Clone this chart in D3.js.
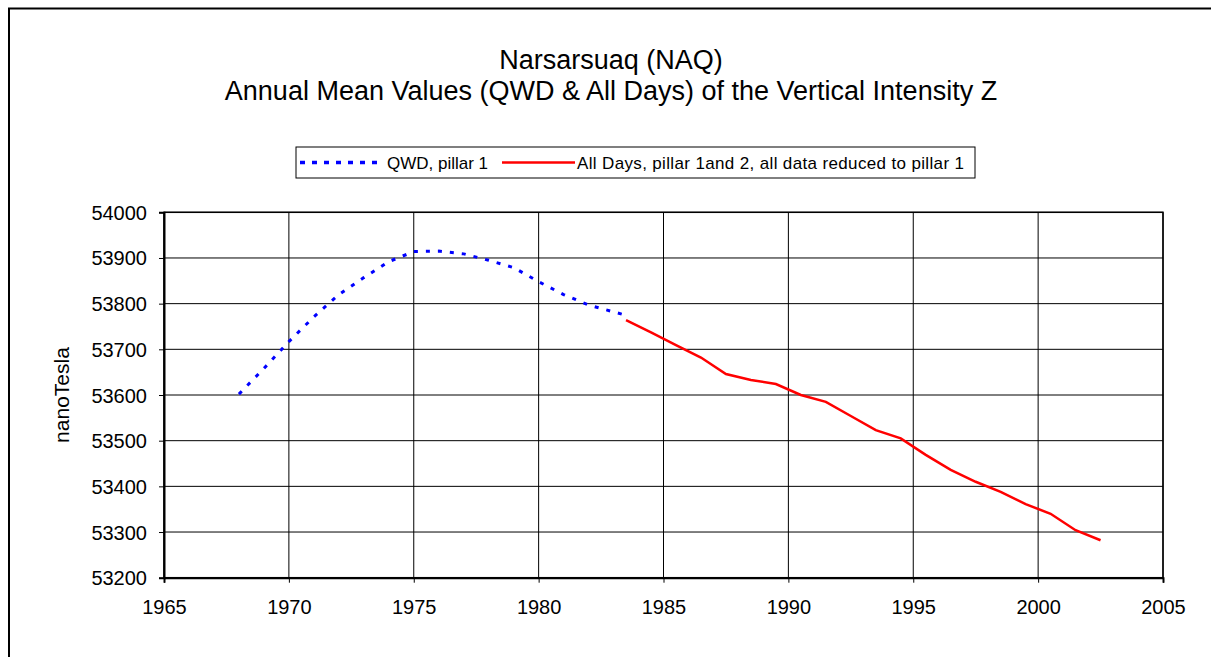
<!DOCTYPE html>
<html><head><meta charset="utf-8">
<script src="https://cdn.jsdelivr.net/npm/d3@7"></script>
<style>body{margin:0;background:#fff}svg{display:block;font-family:"Liberation Sans",Arial,sans-serif}</style>
</head><body><svg id="c" width="1211" height="657"></svg>
<script>
const titleLines = ["Narsarsuaq (NAQ)", "Annual Mean Values (QWD & All Days) of the Vertical Intensity Z"];
const yAxisTitle = "nanoTesla";
const xTicks = [1965,1970,1975,1980,1985,1990,1995,2000,2005];
const yTicks = [53200,53300,53400,53500,53600,53700,53800,53900,54000];
const seriesNames = ["QWD, pillar 1", "All Days, pillar 1and 2, all data reduced to pillar 1"];
const qwdYears = [1968,1969,1970,1971,1972,1973,1974,1975,1976,1977,1978,1979,1980,1981,1982,1983,1983.4];
const qwdValues = [53602,53658,53717,53771,53820,53857,53892,53914,53915,53909,53895,53879,53848,53820,53797,53782,53776];
const allYears = [1983.5,1984.5,1985.5,1986.5,1987.5,1988.5,1989.5,1990.5,1991.5,1992.5,1993.5,1994.5,1995.5,1996.5,1997.5,1998.5,1999.5,2000.5,2001.5,2002.5];
const allValues = [53764,53737,53709,53682,53646,53633,53624,53600,53585,53554,53523,53505,53469,53436,53410,53388,53361,53340,53304,53282];

const svg = d3.select("#c");
const L = 164, R = 1163, T = 212.3, B = 577.7;
const x = d3.scaleLinear().domain([1965,2005]).range([L,R]);
const y = d3.scaleLinear().domain([53200,54000]).range([B,T]);

// outer chart border
svg.append("rect").attr("x",9).attr("y",8.5).attr("width",1240).attr("height",700)
  .attr("fill","none").attr("stroke","#000").attr("stroke-width",2);

// titles
svg.append("text").attr("x",611).attr("y",69).attr("text-anchor","middle")
  .attr("font-size",27).text(titleLines[0]);
svg.append("text").attr("x",611).attr("y",100).attr("text-anchor","middle")
  .attr("font-size",27).text(titleLines[1]);

// grid
const g = svg.append("g");
g.selectAll(".hg").data(yTicks).join("line")
  .attr("x1",L).attr("x2",R).attr("y1",d=>y(d)).attr("y2",d=>y(d))
  .attr("stroke","#000").attr("stroke-width",1);
g.selectAll(".vg").data(xTicks).join("line")
  .attr("y1",T).attr("y2",B).attr("x1",d=>x(d)).attr("x2",d=>x(d))
  .attr("stroke","#000").attr("stroke-width",1);
g.append("rect").attr("x",L).attr("y",T).attr("width",R-L).attr("height",B-T)
  .attr("fill","none").attr("stroke","#000").attr("stroke-width",1.5);

// axes
const xa = svg.append("g").attr("transform",`translate(0,${B})`)
  .call(d3.axisBottom(x).tickValues(xTicks).tickFormat(d3.format("d")).tickSize(5).tickPadding(17));
const ya = svg.append("g").attr("transform",`translate(${L},0)`)
  .call(d3.axisLeft(y).tickValues(yTicks).tickFormat(d3.format("d")).tickSize(5).tickPadding(12));
[xa,ya].forEach(a=>{
  a.selectAll("text").attr("font-size",20).attr("fill","#000").attr("font-family",'"Liberation Sans",Arial,sans-serif');
  a.selectAll("line").attr("stroke","#000");
  a.select(".domain").attr("stroke","#000").attr("stroke-width",2);
});
ya.selectAll("text").attr("dy","0.35em");

svg.append("text").attr("transform",`translate(69,${(T+B)/2}) rotate(-90)`)
  .attr("text-anchor","middle").attr("font-size",21).text(yAxisTitle);

// series
const line = d3.line().x(d=>x(d[0])).y(d=>y(d[1]));
svg.append("path").datum(qwdYears.map((d,i)=>[d,qwdValues[i]]))
  .attr("d",line).attr("fill","none").attr("stroke","#0000ff").attr("stroke-width",3)
  .attr("stroke-dasharray","4,8");
svg.append("path").datum(allYears.map((d,i)=>[d,allValues[i]]))
  .attr("d",line).attr("fill","none").attr("stroke","#ff0000").attr("stroke-width",2.5);

// legend
const lg = svg.append("g");
lg.append("rect").attr("x",296).attr("y",147).attr("width",679).attr("height",31)
  .attr("fill","#fff").attr("stroke","#000").attr("stroke-width",1);
lg.append("line").attr("x1",300).attr("x2",380).attr("y1",162.5).attr("y2",162.5)
  .attr("stroke","#0000ff").attr("stroke-width",3.5).attr("stroke-dasharray","5,7");
lg.append("text").attr("x",387).attr("y",168.5).attr("font-size",17).text(seriesNames[0]);
lg.append("line").attr("x1",502).attr("x2",575).attr("y1",162.5).attr("y2",162.5)
  .attr("stroke","#ff0000").attr("stroke-width",2.5);
lg.append("text").attr("x",577).attr("y",168.5).attr("font-size",17)
  .attr("textLength",387).attr("lengthAdjust","spacing").text(seriesNames[1]);
</script></body></html>
